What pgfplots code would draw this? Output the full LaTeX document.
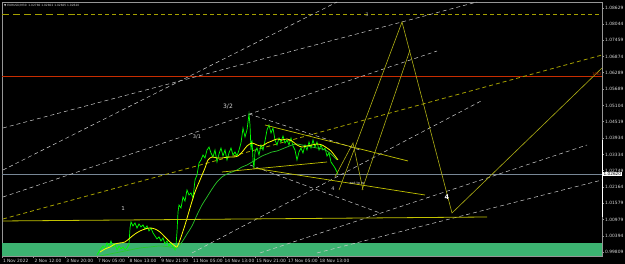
\documentclass[border=0pt]{standalone}
\usepackage{fontspec}
\setmainfont{DejaVu Sans}
\usepackage{pgfplots}
\pgfplotsset{compat=1.18}
\definecolor{pricegreen}{RGB}{0,255,0}
\definecolor{slowma}{RGB}{40,200,40}
\definecolor{fastma}{RGB}{255,255,0}
\definecolor{band}{RGB}{60,179,113}
\definecolor{gold}{RGB}{195,195,0}
\definecolor{olive2}{RGB}{175,175,20}
\definecolor{dashy}{RGB}{165,160,0}
\definecolor{dgrey}{RGB}{205,205,205}
\definecolor{redline}{RGB}{200,45,0}
\definecolor{curline}{RGB}{120,135,150}
\definecolor{axgrey}{RGB}{150,150,150}
\definecolor{lblgrey}{RGB}{215,215,215}
\begin{document}
\begin{tikzpicture}
\useasboundingbox (-2pt,-8pt) rectangle (623pt,256pt);
\fill[black] (-2pt,-8pt) rectangle (623pt,256pt);
\begin{axis}[
  at={(0pt,0pt)}, anchor=south west,
  scale only axis, width=600pt, height=254pt,
  xmin=2, xmax=602, ymin=0.99664, ymax=1.08847,
  clip mode=individual,
  axis line style={draw=axgrey, line width=0.5pt},
  xtick={2,33.67,65.33,97,128.67,160.33,192,223.67,255.33,287,318.67},
  xticklabels={1 Nov 2022, 2 Nov 12:00, 3 Nov 20:00, 7 Nov 05:00, 8 Nov 13:00, 9 Nov 21:00, 11 Nov 05:00, 14 Nov 13:00, 15 Nov 21:00, 17 Nov 05:00, 18 Nov 13:00},
  xticklabel style={anchor=north west, font=\fontsize{4.4}{5}\selectfont, text=lblgrey, inner sep=0.8pt},
  ytick={0.99809,1.00394,1.00979,1.01579,1.02164,1.02749,1.03334,1.03934,1.04519,1.05104,1.05689,1.06289,1.06874,1.07459,1.08044,1.08629},
  yticklabels={0.99809,1.00394,1.00979,1.01579,1.02164,1.02749,1.03334,1.03934,1.04519,1.05104,1.05689,1.06289,1.06874,1.07459,1.08044,1.08629},
  yticklabel style={anchor=west, font=\fontsize{4.4}{5}\selectfont, text=lblgrey, inner sep=1pt},
  xtick pos=bottom, ytick pos=right, yticklabel pos=right,
  tick align=outside, major tick length=2pt, tick style={axgrey, line width=0.5pt},
]
% demand zone
\addplot[draw=none, fill=band] coordinates {(2,1.00145) (602,1.00145)} \closedcycle;
% horizontal levels
\addplot[redline, line width=0.8pt] coordinates {(2,1.06172) (602,1.06172)};
\addplot[curline, line width=0.5pt] coordinates {(2,1.02620) (602,1.02620)};
\addplot[dashy, line width=1.3pt, dash pattern=on 7pt off 4pt] coordinates {(2,1.08395) (77,1.08395)};
\addplot[dashy, line width=0.8pt, dash pattern=on 4pt off 3pt] coordinates {(77,1.08395) (602,1.08395)};
% grey dashed channel lines
\addplot[dgrey, line width=0.5pt, dash pattern=on 4pt off 3pt] coordinates {(3,1.04292) (477,1.08847)};
\addplot[dgrey, line width=0.5pt, dash pattern=on 4pt off 3pt] coordinates {(3,1.02773) (337,1.08847)};
\addplot[dgrey, line width=0.5pt, dash pattern=on 4pt off 3pt] coordinates {(3,1.01797) (437,1.07075)};
\addplot[dgrey, line width=0.5pt, dash pattern=on 4pt off 3pt] coordinates {(192,0.99773) (483,1.05304)};
\addplot[dgrey, line width=0.5pt, dash pattern=on 4pt off 3pt] coordinates {(260,0.99773) (587,1.03677)};
\addplot[dgrey, line width=0.5pt, dash pattern=on 4pt off 3pt] coordinates {(317,0.99773) (602,1.02412)};
\addplot[dgrey, line width=0.5pt, dash pattern=on 4pt off 3pt] coordinates {(249,1.04798) (360,1.03496)};
\addplot[dgrey, line width=0.5pt, dash pattern=on 4pt off 3pt] coordinates {(250,1.02954) (380,1.01219)};
% dashed yellow rising line
\addplot[dashy, line width=0.8pt, dash pattern=on 4pt off 3pt] coordinates {(3,1.01002) (602,1.06931)};
% price
\addplot[pricegreen, line width=0.7pt] coordinates {
(97,0.99700) (100,0.99881) (103,1.00026) (105,0.99918) (107,1.00135) (109,1.00026) (111,1.00207) (113,0.99990)
(115,1.00098) (117,0.99881) (119,1.00026) (121,0.99918) (123,0.99990) (125,0.99881) (127,0.99954) (129,1.00098)
(130,1.00677) (131,1.00894) (133,1.00749) (135,1.00858) (137,1.00677) (139,1.00821) (141,1.00713) (143,1.00785)
(145,1.00640) (147,1.00749) (149,1.00568) (151,1.00677) (153,1.00496) (155,1.00387) (157,1.00279) (159,1.00351)
(161,1.00207) (163,1.00315) (165,1.00098) (167,1.00207) (169,1.00026) (171,1.00135) (173,0.99990) (175,0.99881)
(176,1.00062) (177,1.00532) (178,1.01255) (179,1.01508) (181,1.01399) (183,1.01797) (185,1.01653) (187,1.02050)
(189,1.01869) (191,1.01942) (193,1.01761) (195,1.02412) (197,1.02593) (199,1.03026) (201,1.03135) (203,1.03315)
(205,1.03207) (207,1.03496) (209,1.03604) (211,1.03388) (213,1.03243) (215,1.03496) (217,1.03062) (219,1.03352)
(221,1.03568) (223,1.03279) (225,1.03496) (227,1.03135) (229,1.03388) (231,1.03568) (233,1.03315) (235,1.03424)
(237,1.03279) (239,1.03496) (241,1.03749) (243,1.04291) (245,1.03966) (247,1.04219) (249,1.04798) (250,1.04400)
(251,1.03496) (252,1.03858) (253,1.03135) (254,1.02846) (255,1.03424) (257,1.03568) (259,1.03315) (261,1.03677)
(263,1.03496) (265,1.03822) (267,1.04219) (269,1.04400) (271,1.04111) (273,1.04291) (275,1.03858) (277,1.03677)
(279,1.03930) (281,1.03786) (283,1.04002) (285,1.03749) (287,1.03858) (289,1.03677) (291,1.03930) (293,1.03641)
(295,1.03496) (297,1.03135) (299,1.03424) (301,1.03568) (303,1.03388) (305,1.03677) (307,1.03496) (309,1.03786)
(311,1.03568) (313,1.03858) (315,1.03604) (317,1.03786) (319,1.03496) (321,1.03677) (323,1.03496) (325,1.03568)
(327,1.03279) (329,1.03388) (331,1.03062) (333,1.02954) (335,1.02846) (337,1.02701) (338,1.02620)};
% slow MA
\addplot[slowma, line width=0.7pt, smooth] coordinates {
(100,0.99664) (110,0.99737) (120,0.99809) (130,0.99881) (140,0.99954) (150,0.99990) (160,1.00026) (170,0.99990)
(177,0.99954) (182,1.00171) (187,1.00460) (192,1.00749) (197,1.01146) (202,1.01508) (207,1.01797) (212,1.02086)
(217,1.02340) (222,1.02521) (227,1.02629) (232,1.02701) (237,1.02773) (242,1.02882) (247,1.02954) (252,1.03062)
(257,1.03171) (262,1.03279) (267,1.03352) (272,1.03424) (277,1.03460) (282,1.03532) (287,1.03604) (292,1.03677)
(297,1.03713) (302,1.03677) (307,1.03641) (312,1.03604) (317,1.03568) (322,1.03532) (327,1.03460) (332,1.03315)
(337,1.03135)};
% fast MA
\addplot[fastma, line width=0.8pt, smooth] coordinates {
(100,0.99809) (105,0.99918) (110,0.99990) (115,1.00098) (120,1.00135) (125,1.00171) (130,1.00315) (135,1.00460)
(140,1.00568) (145,1.00640) (150,1.00677) (155,1.00640) (160,1.00532) (165,1.00351) (170,1.00171) (175,1.00026)
(177,0.99990) (180,1.00243) (185,1.00785) (190,1.01399) (195,1.01978) (200,1.02412) (205,1.02846) (208,1.03135)
(212,1.03243) (217,1.03207) (222,1.03207) (228,1.03243) (233,1.03243) (238,1.03279) (243,1.03460) (247,1.03641)
(252,1.03749) (257,1.03677) (262,1.03641) (267,1.03749) (272,1.03822) (277,1.03894) (282,1.03858) (287,1.03894)
(292,1.03822) (297,1.03677) (302,1.03604) (307,1.03641) (312,1.03677) (317,1.03713) (322,1.03677) (327,1.03568)
(331,1.03460) (335,1.03279) (338,1.03135)};
% yellow trendlines
\addplot[gold, line width=0.8pt] coordinates {(3,1.00930) (487,1.01074)};
\addplot[gold, line width=0.7pt] coordinates {(265,1.04400) (408,1.03099)};
\addplot[gold, line width=0.7pt] coordinates {(253,1.02846) (425,1.01869)};
\addplot[gold, line width=0.7pt] coordinates {(222,1.02701) (327,1.03062)};
% projected wave path
\addplot[olive2, line width=0.6pt] coordinates {(339,1.02050) (402,1.08124) (452,1.01219) (602,1.06461)};
\addplot[olive2, line width=0.6pt] coordinates {(362,1.02050) (410,1.07111)};
\addplot[olive2, line width=0.6pt] coordinates {(335,1.02520) (353,1.03749) (363,1.02050)};
% labels
\node[text=lblgrey, font=\fontsize{5.5}{6}\selectfont] at (axis cs:123,1.01399) {1};
\node[text=lblgrey, font=\fontsize{5}{6}\selectfont] at (axis cs:197,1.03966) {3/1};
\node[text=lblgrey, font=\fontsize{6}{7}\selectfont] at (axis cs:228,1.05051) {3/2};
\node[text=axgrey, font=\fontsize{5}{6}\selectfont] at (axis cs:367,1.08377) {3};
\node[text=lblgrey, font=\fontsize{5}{6}\selectfont] at (axis cs:333,1.02086) {4};
\node[text=lblgrey, font=\fontsize{3.6}{4}\selectfont] at (axis cs:357,1.02303) {ext to w};
\node[text=white, font=\bfseries\fontsize{6.5}{7}\selectfont] at (axis cs:447,1.01797) {4};
\node[text=redline, font=\fontsize{3.6}{4}\selectfont, anchor=south east, inner sep=0.3pt] at (axis cs:602,1.06172) {1062};
\node[text=lblgrey, font=\fontsize{2.9}{3}\selectfont, anchor=north west, inner sep=0pt] at (axis cs:4,1.08775) {▼ EURUSD,M30\ \ 1.02780 1.02802 1.02605 1.02620};
% right side markers
\draw[white, line width=0.7pt] (axis cs:602,1.03858) -- (axis cs:602,1.01074);
\node[fill=white, text=black, font=\fontsize{4.2}{5}\selectfont, anchor=west, inner sep=0.5pt] at (axis cs:603,1.02620) {1.02620};
\end{axis}
\end{tikzpicture}
\end{document}
